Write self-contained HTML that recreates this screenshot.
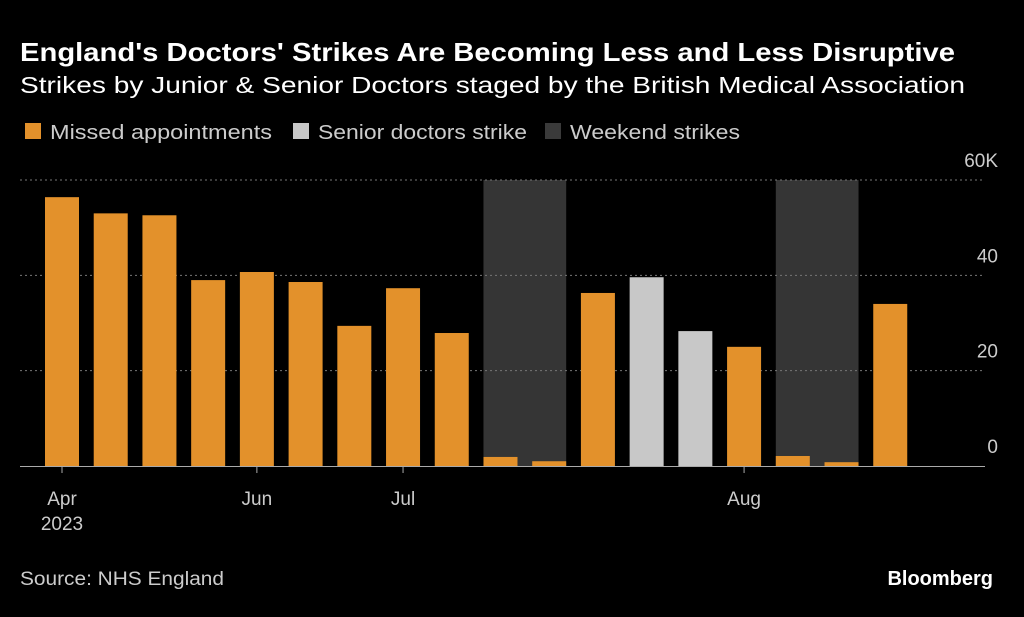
<!DOCTYPE html>
<html><head><meta charset="utf-8"><style>
body{margin:0;background:#000;width:1024px;height:612px;overflow:hidden;font-family:"Liberation Sans",sans-serif;}
</style></head><body>
<svg width="1024" height="612" xmlns="http://www.w3.org/2000/svg" id="svg">
<text x="20" y="61" fill="#fff" font-size="26" font-weight="bold" textLength="935" lengthAdjust="spacingAndGlyphs">England's Doctors' Strikes Are Becoming Less and Less Disruptive</text>
<text x="20" y="93" fill="#fff" font-size="23" textLength="945" lengthAdjust="spacingAndGlyphs">Strikes by Junior &amp; Senior Doctors staged by the British Medical Association</text>
<g font-size="20" fill="#ccc">
<rect x="25" y="123" width="16" height="16" fill="#e3912b"/>
<text x="50" y="139" textLength="222" lengthAdjust="spacingAndGlyphs">Missed appointments</text>
<rect x="293" y="123" width="16" height="16" fill="#c8c8c8"/>
<text x="318" y="139" textLength="209" lengthAdjust="spacingAndGlyphs">Senior doctors strike</text>
<rect x="545" y="123" width="16" height="16" fill="#3a3a3a"/>
<text x="570" y="139" textLength="170" lengthAdjust="spacingAndGlyphs">Weekend strikes</text>
</g>
<g id="plot"></g>
<text x="20" y="585" fill="#ccc" font-size="19" textLength="204" lengthAdjust="spacingAndGlyphs">Source: NHS England</text>
<text x="993" y="585" fill="#fff" font-size="20" font-weight="bold" text-anchor="end">Bloomberg</text>
</svg>
<script>
const values=[56.4,53,52.6,39,40.7,38.6,29.4,37.3,27.9,1.9,1.0,36.3,39.6,28.3,25,2.1,0.8,34];
const barTypes=["m","m","m","m","m","m","m","m","m","m","m","m","s","s","m","m","m","m"];
const weekendRanges=[[9,10],[15,16]];
const yTicks=[0,20,40,60];
const yTickLabels=["0","20","40","60K"];
const xTickIndex=[0,4,7,14];
const xTickLabels=["Apr","Jun","Jul","Aug"];
const NS="http://www.w3.org/2000/svg";
const g=document.getElementById('plot');
const y=v=>466-v*(286/60);
const xc=i=>62+i*48.72;
const bw=34;
function mk(t,a){const e=document.createElementNS(NS,t);for(const k in a)e.setAttribute(k,a[k]);g.appendChild(e);return e;}
weekendRanges.forEach((r,k)=>{const e=mk('rect',{x:xc(r[0])-bw/2,y:y(60),width:xc(r[1])-xc(r[0])+bw,height:y(0)-y(60),fill:'#353535'});

});
yTicks.forEach((t,i)=>{if(t>0){const l=mk('line',{x1:20,x2:985,y1:y(t),y2:y(t),stroke:'#777','stroke-dasharray':'2,3','stroke-width':1});

}
const tx=mk('text',{x:998,y:y(t)-13,fill:'#ccc','font-size':19,'text-anchor':'end'});tx.textContent=yTickLabels[i];

});
values.forEach((v,i)=>{const r=mk('rect',{x:xc(i)-bw/2,y:y(v),width:bw,height:y(0)-y(v),fill:barTypes[i]=='s'?'#c8c8c8':'#e3912b'});

});
const ax=mk('line',{x1:20,x2:985,y1:466.5,y2:466.5,stroke:'#aaa','stroke-width':1});


xTickIndex.forEach((idx,i)=>{const t=mk('line',{x1:xc(idx),x2:xc(idx),y1:466,y2:473,stroke:'#aaa'});


const tx=mk('text',{x:xc(idx),y:505,fill:'#ccc','font-size':19,'text-anchor':'middle'});tx.textContent=xTickLabels[i];

});
const yr=mk('text',{x:xc(0),y:530,fill:'#ccc','font-size':19,'text-anchor':'middle'});yr.textContent='2023';


</script>
</body></html>
